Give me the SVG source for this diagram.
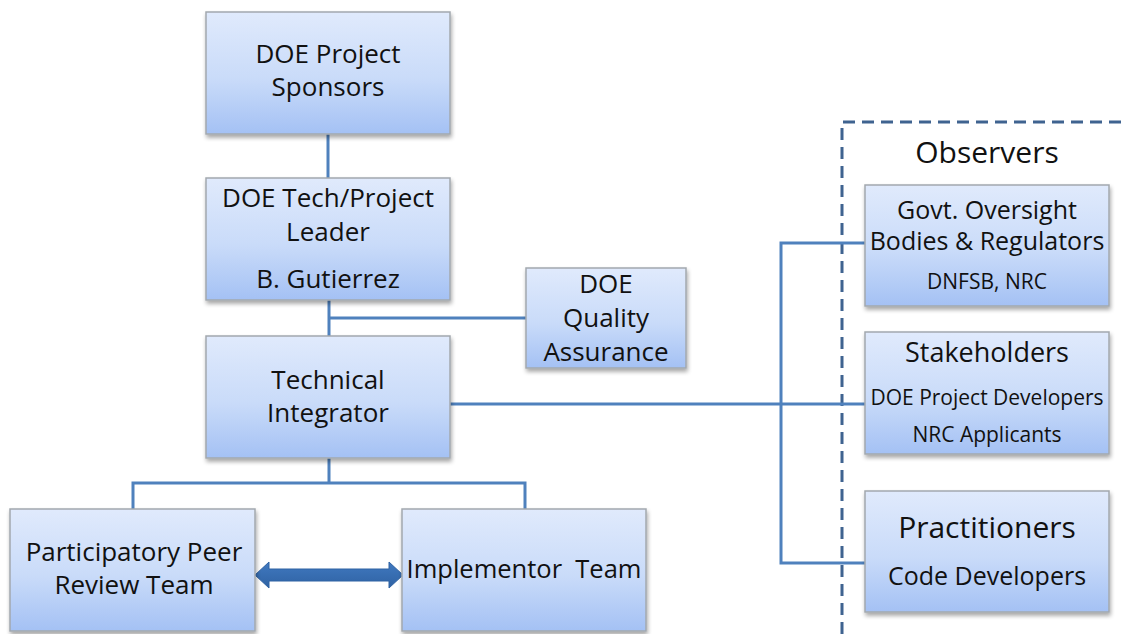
<svg xmlns="http://www.w3.org/2000/svg" width="1128" height="634" viewBox="0 0 1128 634">
<defs>
<linearGradient id="boxg" x1="0" y1="0" x2="0" y2="1">
<stop offset="0" stop-color="#e0eafc"/>
<stop offset="0.55" stop-color="#c9dbf9"/>
<stop offset="1" stop-color="#a4c1f4"/>
</linearGradient>
<linearGradient id="arrg" x1="0" y1="0" x2="0" y2="1">
<stop offset="0" stop-color="#4079c0"/>
<stop offset="1" stop-color="#2f62a3"/>
</linearGradient>
<filter id="sh" x="-10%" y="-10%" width="125%" height="130%">
<feGaussianBlur in="SourceAlpha" stdDeviation="2"/>
<feOffset dx="1" dy="3" result="b"/>
<feComponentTransfer><feFuncA type="linear" slope="0.35"/></feComponentTransfer>
<feMerge><feMergeNode/><feMergeNode in="SourceGraphic"/></feMerge>
</filter>
</defs>
<style>
.box{fill:url(#boxg);stroke:#a3a8ae;stroke-width:1.5;filter:url(#sh)}
.t{font-family:"Open Sans","Noto Sans","Liberation Sans",sans-serif;fill:#111;text-anchor:middle}
.l{font-size:26px}
.m{font-size:25px}
.s{font-size:21px}
.c{fill:none;stroke:#4f81bd;stroke-width:3}
</style>
<rect width="1128" height="634" fill="#ffffff"/>

<g id="observers-frame">
<path d="M842,634 V122 H1135" fill="none" stroke="#3f6390" stroke-width="3" stroke-dasharray="12,7"/>
<text class="t" x="987" y="163" font-size="30px">Observers</text>
</g>

<g id="connectors">
<line class="c" x1="328" y1="134" x2="328" y2="178"/>
<line class="c" x1="329" y1="300" x2="329" y2="336"/>
<line class="c" x1="329" y1="318" x2="526" y2="318"/>
<path class="c" d="M329,458 V483 M133,509 V483 H525 V509"/>
<line class="c" x1="450" y1="404" x2="865" y2="404"/>
<path class="c" d="M865,243 H781 V563 H865"/>
<path d="M255,575 L269,562 V569 H389 V562 L403,575 L389,588 V581 H269 V588 Z" fill="url(#arrg)" stroke="#2f62a3" stroke-width="1"/>
</g>

<g id="sponsors">
<rect class="box" x="206" y="12" width="244" height="122"/>
<text class="t l" x="328" y="63">DOE Project</text>
<text class="t l" x="328" y="96">Sponsors</text>
</g>

<g id="leader">
<rect class="box" x="206" y="178" width="244" height="122"/>
<text class="t l" x="328" y="207">DOE Tech/Project</text>
<text class="t l" x="328" y="241">Leader</text>
<text class="t l" x="328" y="288">B. Gutierrez</text>
</g>

<g id="qa">
<rect class="box" x="526" y="268" width="160" height="100"/>
<text class="t l" x="606" y="293">DOE</text>
<text class="t l" x="606" y="327">Quality</text>
<text class="t l" x="606" y="361">Assurance</text>
</g>

<g id="integrator">
<rect class="box" x="206" y="336" width="244" height="122"/>
<text class="t l" x="328" y="389">Technical</text>
<text class="t l" x="328" y="422">Integrator</text>
</g>

<g id="peer-review">
<rect class="box" x="10" y="509" width="245" height="122"/>
<text class="t l" x="134" y="561">Participatory Peer</text>
<text class="t l" x="134" y="594">Review Team</text>
</g>

<g id="implementor">
<rect class="box" x="402" y="509" width="244" height="122"/>
<text class="t" x="524" y="578" font-size="25.5px" xml:space="preserve">Implementor  Team</text>
</g>

<g id="govt">
<rect class="box" x="865" y="185" width="244" height="121"/>
<text class="t m" x="987" y="219">Govt. Oversight</text>
<text class="t m" x="987" y="250">Bodies &amp; Regulators</text>
<text class="t s" x="987" y="289">DNFSB, NRC</text>
</g>

<g id="stakeholders">
<rect class="box" x="865" y="332" width="244" height="122"/>
<text class="t" x="987" y="362" font-size="27px">Stakeholders</text>
<text class="t s" x="987" y="405">DOE Project Developers</text>
<text class="t s" x="987" y="442">NRC Applicants</text>
</g>

<g id="practitioners">
<rect class="box" x="865" y="491" width="244" height="121"/>
<text class="t" x="987" y="538" font-size="30px">Practitioners</text>
<text class="t m" x="987" y="585">Code Developers</text>
</g>
</svg>
